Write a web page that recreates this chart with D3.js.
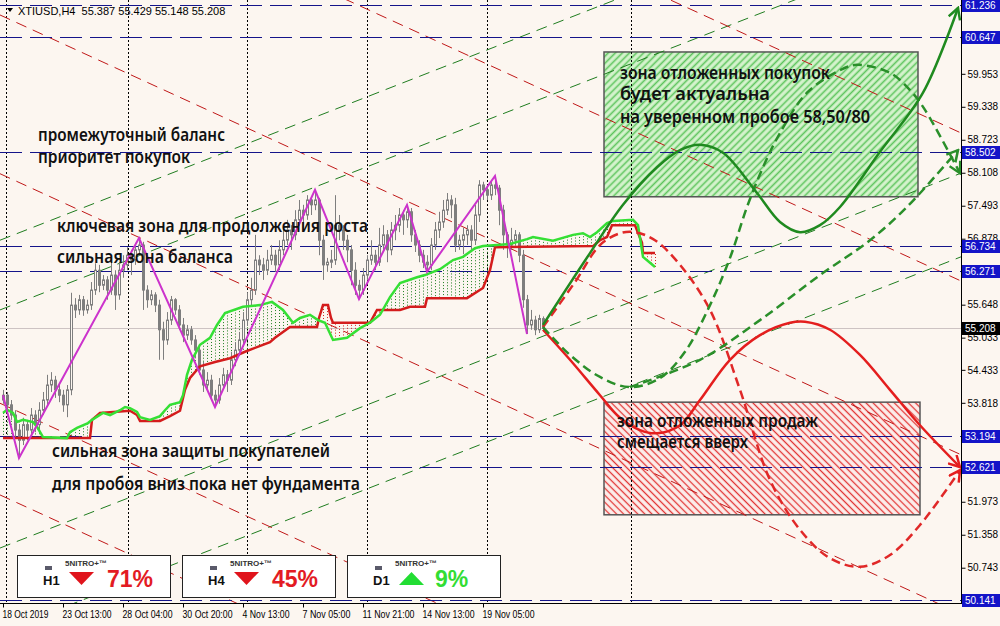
<!DOCTYPE html>
<html><head><meta charset="utf-8">
<script src="https://d3js.org/d3.v7.min.js"></script>
<style>html,body{margin:0;padding:0;background:#fcf6f0;}svg{display:block;}</style>
</head><body>
<svg id="chart" width="1000" height="626"></svg>
<script>
// ---------------- DATA ----------------
const symbolHeader = "XTIUSD,H4  55.387 55.429 55.148 55.208";
// candles [open, high, low, close], one per H4 bar
const candles = [
[53.87,54.06,53.80,53.96],[53.96,54.02,53.68,53.78],[53.78,53.87,53.50,53.59],[53.59,53.68,53.16,53.31],
[53.31,53.41,52.79,53.12],[53.12,53.54,53.03,53.41],[53.41,53.50,53.12,53.31],[53.31,53.72,53.22,53.59],
[53.59,53.68,53.27,53.41],[53.41,53.83,53.31,53.68],[53.68,54.02,53.59,53.87],[53.87,54.34,53.78,54.15],
[54.15,54.39,54.02,54.24],[54.24,54.32,53.91,54.06],[54.06,54.15,53.83,53.96],[53.96,54.06,53.65,53.78],
[53.78,54.15,53.55,54.06],[54.06,55.87,53.96,55.64],[55.64,55.77,55.40,55.55],[55.55,55.83,55.46,55.74],
[55.74,55.81,55.44,55.55],[55.55,55.74,55.48,55.64],[55.64,56.07,55.55,55.92],[55.92,56.42,55.83,56.29],
[56.29,56.39,55.88,56.01],[56.01,56.20,55.92,56.11],[56.11,56.18,55.74,55.92],[55.92,56.44,55.83,56.20],
[56.20,56.29,55.55,55.83],[55.83,56.44,55.74,56.29],[56.29,56.57,56.15,56.39],[56.39,56.72,56.29,56.57],
[56.57,56.67,56.20,56.48],[56.48,56.80,56.39,56.67],[56.67,56.89,56.56,56.76],[56.76,56.82,55.55,55.92],
[55.92,56.01,55.59,55.74],[55.74,55.92,55.64,55.83],[55.83,55.88,55.51,55.64],[55.64,55.74,54.62,55.18],
[55.18,55.33,54.62,54.99],[54.99,55.51,54.90,55.36],[55.36,55.81,55.27,55.74],[55.74,55.77,55.46,55.55],
[55.55,55.64,55.18,55.27],[55.27,55.40,54.95,55.08],[55.08,55.27,54.99,55.18],[55.18,55.25,54.90,54.99],
[54.99,55.08,54.65,54.80],[54.80,54.90,54.34,54.43],[54.43,54.58,54.02,54.15],[54.15,54.39,54.06,54.24],
[54.24,54.34,53.87,53.96],[53.96,54.06,53.74,53.87],[53.87,54.28,53.80,54.15],[54.15,54.47,54.06,54.34],
[54.34,54.43,54.02,54.24],[54.24,54.77,54.15,54.62],[54.62,54.95,54.50,54.80],[54.80,55.14,54.69,54.99],
[54.99,55.51,54.90,55.36],[55.36,55.88,55.25,55.74],[55.74,56.15,55.64,55.92],[55.92,56.95,55.83,56.48],
[56.48,56.57,56.20,56.39],[56.39,56.52,56.11,56.29],[56.29,56.67,56.20,56.48],[56.48,56.76,56.39,56.57],
[56.57,56.67,56.26,56.39],[56.39,56.85,56.29,56.67],[56.67,57.08,56.57,56.85],[56.85,57.23,56.76,57.04],
[57.04,57.13,56.67,56.95],[56.95,57.41,56.85,57.23],[57.23,57.60,57.13,57.41],[57.41,57.51,57.04,57.32],
[57.32,57.69,57.23,57.60],[57.60,57.67,57.32,57.51],[57.51,57.79,57.41,57.60],[57.60,57.64,56.57,56.85],
[56.85,56.95,56.11,56.39],[56.39,56.52,56.26,56.44],[56.44,56.67,56.33,56.48],[56.48,57.69,56.39,57.13],
[57.13,57.32,56.85,57.04],[57.04,57.13,56.67,56.85],[56.85,56.95,56.44,56.67],[56.67,56.76,56.01,56.29],
[56.29,56.44,55.83,56.01],[56.01,56.11,55.75,55.92],[55.92,56.33,55.83,56.20],[56.20,56.57,56.11,56.48],
[56.48,56.85,56.39,56.57],[56.57,56.67,56.29,56.44],[56.44,57.08,56.37,56.76],[56.76,57.13,56.67,56.95],
[56.95,57.04,56.44,56.67],[56.67,57.19,56.57,57.04],[57.04,57.32,56.85,57.13],[57.13,57.45,57.00,57.32],
[57.32,57.41,56.95,57.23],[57.23,57.51,57.08,57.38],[57.38,57.45,56.82,56.95],[56.95,57.04,56.63,56.76],
[56.76,56.85,56.44,56.57],[56.57,56.67,56.33,56.44],[56.44,56.57,56.26,56.39],[56.39,56.89,56.29,56.76],
[56.76,57.19,56.67,57.04],[57.04,57.38,56.89,57.19],[57.19,57.60,57.08,57.41],[57.41,57.73,57.32,57.60],
[57.60,57.69,57.26,57.51],[57.51,57.64,56.63,56.76],[56.76,56.95,56.67,56.85],[56.85,57.08,56.59,56.95],
[56.95,57.13,56.76,57.04],[57.04,57.13,56.63,56.85],[56.85,57.51,56.76,57.32],[57.32,57.97,57.19,57.88],
[57.88,57.94,57.60,57.79],[57.79,57.88,57.60,57.69],[57.69,57.94,57.60,57.88],[57.88,58.05,57.69,57.82],
[57.82,57.88,57.13,57.41],[57.41,57.51,56.67,56.95],[56.95,57.00,56.52,56.76],[56.76,57.08,56.67,56.85],
[56.85,57.04,56.76,56.95],[56.95,57.00,56.44,56.57],[56.57,56.67,55.59,55.74],[55.74,55.83,55.10,55.27],
[55.27,55.55,55.18,55.36],[55.36,55.44,55.08,55.18],[55.18,55.46,55.12,55.39],[55.387,55.429,55.148,55.208]
];
// Ichimoku cloud borders [bar index, price]
const spanA = [[0,53.63],[1,53.69],[2.5,53.63],[3.5,53.46],[5,53.50],[7.5,53.46],[8.5,53.37],[10,53.18],[16,53.16],
[16.75,53.27],[18.5,53.35],[21.25,53.44],[22.25,53.50],[25,53.63],[26.75,53.59],[29.25,53.68],[30.5,53.74],[31.75,53.72],
[33.5,53.65],[34.25,53.55],[36.75,53.50],[39.25,53.57],[40.5,53.68],[41.75,53.78],[44.25,53.83],[45,53.96],[46,54.34],
[47.25,54.62],[49.25,54.90],[51.75,55.03],[53.5,55.27],[55.5,55.49],[60,55.61],[64.25,55.64],[67.25,55.70],[70,55.55],
[72.5,55.31],[74.25,55.40],[76.75,55.46],[78.75,55.36],[80.5,55.31],[82.5,54.99],[86,55.03],[89.25,55.21],[91.75,55.31],
[94.25,55.46],[96.75,55.79],[99.25,56.05],[103.5,56.16],[105.5,56.20],[109.25,56.31],[112.5,56.48],[115,56.54],[118,56.70],
[120,56.74],[123.5,56.76],[126.75,56.78],[131,56.87],[132.5,56.91],[137.5,56.84],[142.5,56.95],[145,56.98],[146.75,56.91],
[148.5,57.00],[151,57.17],[152.5,57.21],[157.5,57.23],[158.75,57.13],[160,56.54],[161.75,56.43],[163,56.35]];
const spanB = [[0,53.16],[21.75,53.16],[22.25,53.50],[24.25,53.63],[31.75,53.67],[33.5,53.59],[34.25,53.48],[39.25,53.48],
[41.75,53.57],[44.25,53.67],[45.5,54.06],[46.75,54.28],[49.25,54.50],[53,54.58],[56.75,54.65],[60.5,54.77],[66.75,54.95],
[68,55.03],[71.75,55.23],[78.5,55.23],[79,55.40],[80,55.64],[81.25,55.64],[82,55.40],[82.5,55.31],[91.75,55.31],[93.5,55.55],
[99.25,55.55],[101.75,55.61],[105.5,55.61],[106,55.77],[116,55.77],[120,55.96],[121.75,56.29],[123,56.72],[147.5,56.74],
[149.25,56.85],[151,56.91],[152.25,57.13],[158,57.13],[159.75,56.80],[160,56.61],[163,56.61]];
// zigzag extremes [bar index, price]
const zigzag = [[0,53.96],[4,52.79],[34,56.89],[53,53.74],[78,57.79],[89,55.75],[101,57.51],[106,56.26],[123,58.05],[131,55.10]];
// forecast scenarios [bar index, price]
const fcGreenSolid = [[135,55.27],[146.75,56.61],[155,57.51],[163.5,58.21],[169.25,58.53],[174.25,58.63],[180,58.48],[188.5,57.73],
[194.25,57.19],[199.25,57.00],[204.25,57.13],[209.25,57.47],[219.25,58.50],[230,59.60],[238.75,61.18]];
const fcGreenDash1 = [[135,55.23],[141.75,54.71],[149.25,54.30],[156.75,54.11],[164.25,54.28],[170.5,54.77],[176.75,55.64],
[181.75,56.52],[186,57.47],[190,58.21],[194.25,58.85],[201,59.60],[209.25,60.02],[213.5,60.12],[221.75,59.97],[226.75,59.65],
[230.5,59.28],[239.25,58.10]];
const fcGreenDash2 = [[156.75,54.11],[174.25,54.62],[189.25,55.36],[204.25,56.20],[216.75,56.85],[226,57.47],[238.75,58.53]];
const fcRedSolid = [[135,55.18],[141.75,54.62],[149.25,53.96],[154.25,53.54],[159.25,53.31],[163.5,53.25],[169.25,53.40],
[174.25,53.87],[181.75,54.62],[189.25,55.08],[196.75,55.31],[200.5,55.33],[206.75,55.18],[214.25,54.71],[221.75,54.06],
[229.25,53.40],[239.25,52.62]];
const fcRedDash = [[135,55.23],[143,56.07],[149.25,56.76],[154.25,56.98],[158,57.00],[163,56.85],[169.25,56.39],[176.75,55.55],
[184.25,54.06],[191.75,52.38],[199.25,51.45],[206.75,50.92],[214.25,50.76],[221.75,50.98],[229.25,51.54],[239.25,52.56]];
// trend channel lines
const greenChannels = [[[-0.75,56.85],[239.5,63.85]],[[-0.75,55.55],[239.5,62.54]],[[-0.75,51.11],[239.5,58.10]],[[-0.75,49.54],[239.5,56.54]]];
const redChannels = [[[-0.75,67.05],[239.5,58.85]],[[-0.75,64.29],[239.5,56.09]],[[-0.75,61.05],[239.5,52.85]],[[-0.75,58.09],[239.5,49.88]],[[-0.75,53.81],[239.5,45.61]],[[-0.75,52.10],[239.5,43.90]]];
// zones [i0, i1, pTop, pBottom]
const buyZone = [[150.25,228.75,60.36,57.66]];
const sellZone = [[150.25,229.25,53.83,51.73]];
const levels = [61.236,60.647,58.502,56.734,56.271,53.194,52.621,50.141];
const lastPrice = 55.208;
const priceTicks = [59.953,59.338,58.723,58.108,57.493,56.878,55.648,55.033,54.433,53.818,51.973,51.358,50.743];
const timeTickIdx = [0,15,30,45,60,75,90,105,120];
const timeLabels = ["18 Oct 2019","23 Oct 13:00","28 Oct 04:00","30 Oct 20:00","4 Nov 13:00","7 Nov 05:00","11 Nov 21:00","14 Nov 13:00","19 Nov 05:00"];
const separators = [0.75,31.25,61,91,121,157];
const notesLeft = ["промежуточный баланс","приоритет покупок","ключевая зона для продолжения роста","сильная зона баланса","сильная зона защиты покупателей","для пробоя вниз пока нет фундамента"];
const notesBuy = ["зона отложенных покупок","будет актуальна","на уверенном пробое 58,50/80"];
const notesSell = ["зона отложенных продаж","смещается вверх"];
const panelTF = ["H1","H4","D1"];
const panelPct = [71,45,9];
const panelDir = ["down","down","up"];

// ---------------- DRAW ----------------
const BG = "#fcf6f0";
const svg = d3.select("#chart");
const x = d3.scaleLinear().domain([0,239.5]).range([3,961]);
const y = d3.scaleLinear().domain([50.141,61.236]).range([600,5]);
const defs = svg.append("defs");
defs.append("clipPath").attr("id","plotClip").append("rect").attr("x",0).attr("y",0).attr("width",961).attr("height",603);

function hatch(id,bg,col,rot,sw){
  const p = defs.append("pattern").attr("id",id).attr("patternUnits","userSpaceOnUse")
    .attr("width",5).attr("height",5).attr("patternTransform",`rotate(${rot})`);
  p.append("rect").attr("width",5).attr("height",5).attr("fill",bg);
  p.append("line").attr("x1",2.5).attr("x2",2.5).attr("y1",0).attr("y2",5).attr("stroke",col).attr("stroke-width",sw);
}
hatch("hatchG","#d6f3ce","#5dc45d",45,1.6);
hatch("hatchR","#fcefec","#e23535",-45,1.3);

function marker(id,col){
  defs.append("marker").attr("id",id).attr("viewBox","0 0 14 14").attr("refX",12).attr("refY",7)
    .attr("markerWidth",14).attr("markerHeight",14).attr("markerUnits","userSpaceOnUse").attr("orient","auto")
    .append("path").attr("d","M1,1 L12,7 L1,13").attr("fill","none").attr("stroke",col)
    .attr("stroke-width",2.5).attr("stroke-dasharray","none").attr("stroke-linejoin","miter");
}
marker("arrG","#1f8a1f"); marker("arrGd","#2a8f2a"); marker("arrR","#e41e1e");

svg.append("rect").attr("width",1000).attr("height",626).attr("fill",BG);
const plot = svg.append("g").attr("clip-path","url(#plotClip)");

// zones
plot.selectAll(".bz").data(buyZone).join("rect")
  .attr("x",d=>x(d[0])).attr("y",d=>y(d[2])).attr("width",d=>x(d[1])-x(d[0])).attr("height",d=>y(d[3])-y(d[2]))
  .attr("fill","url(#hatchG)").attr("stroke","#555").attr("stroke-width",1.5);
plot.selectAll(".sz").data(sellZone).join("rect")
  .attr("x",d=>x(d[0])).attr("y",d=>y(d[2])).attr("width",d=>x(d[1])-x(d[0])).attr("height",d=>y(d[3])-y(d[2]))
  .attr("fill","url(#hatchR)").attr("stroke","#555").attr("stroke-width",1.5);

// separators
plot.selectAll(".sep").data(separators).join("line")
  .attr("x1",d=>Math.round(x(d))+0.5).attr("x2",d=>Math.round(x(d))+0.5).attr("y1",0).attr("y2",603)
  .attr("stroke","#000").attr("stroke-dasharray","2,2");

// bid line
plot.append("line").attr("x1",0).attr("x2",961).attr("y1",Math.round(y(lastPrice))+0.5).attr("y2",Math.round(y(lastPrice))+0.5)
  .attr("stroke","#cdc3c3");

// channels
const ln = d3.line().x(d=>x(d[0])).y(d=>y(d[1]));
plot.selectAll(".gch").data(greenChannels).join("path").attr("d",ln).attr("fill","none")
  .attr("stroke","#1f7d1f").attr("stroke-dasharray","11,7");
plot.selectAll(".rch").data(redChannels).join("path").attr("d",ln).attr("fill","none")
  .attr("stroke","#c01818").attr("stroke-dasharray","11,7");

// horizontal levels
plot.selectAll(".lvl").data(levels).join("line")
  .attr("x1",0).attr("x2",961).attr("y1",d=>Math.round(y(d))+0.5).attr("y2",d=>Math.round(y(d))+0.5)
  .attr("stroke","#14148a").attr("stroke-dasharray","22,8");

// cloud hatch
function interp(pts,t){
  for(let k=0;k<pts.length-1;k++){const a=pts[k],b=pts[k+1];
    if(t>=a[0]&&t<=b[0]) return b[0]===a[0]?b[1]:a[1]+(b[1]-a[1])*(t-a[0])/(b[0]-a[0]);}
  return null;
}
const hatchIdx = d3.range(0,164);
plot.selectAll(".ch").data(hatchIdx).join("line")
  .attr("x1",d=>Math.round(x(d))+0.5).attr("x2",d=>Math.round(x(d))+0.5)
  .attr("y1",d=>y(interp(spanA,d))).attr("y2",d=>y(interp(spanB,d)))
  .attr("stroke",d=>interp(spanA,d)>=interp(spanB,d)?"#1e7e1e":"#d02020").attr("stroke-dasharray","1,2");

// candles
const cg = plot.append("g");
cg.selectAll("line").data(candles).join("line")
  .attr("x1",(d,i)=>Math.round(x(i))+0.5).attr("x2",(d,i)=>Math.round(x(i))+0.5)
  .attr("y1",d=>y(d[1])).attr("y2",d=>y(d[2])).attr("stroke","#7e7e7e");
cg.selectAll("rect").data(candles).join("rect")
  .attr("x",(d,i)=>Math.round(x(i))-0.5).attr("width",2)
  .attr("y",d=>y(Math.max(d[0],d[3]))).attr("height",d=>Math.max(1,y(Math.min(d[0],d[3]))-y(Math.max(d[0],d[3]))))
  .attr("fill",d=>d[3]>=d[0]?BG:"#7e7e7e").attr("stroke","#7e7e7e");

// cloud lines
plot.append("path").datum(spanB).attr("d",ln).attr("fill","none").attr("stroke","#d41c1c").attr("stroke-width",2.5);
plot.append("path").datum(spanA).attr("d",ln).attr("fill","none").attr("stroke","#35e035").attr("stroke-width",2.5);

// zigzag
plot.append("path").datum(zigzag).attr("d",ln).attr("fill","none").attr("stroke","#cc33cc").attr("stroke-width",2);

// forecasts
const cv = d3.line().x(d=>x(d[0])).y(d=>y(d[1])).curve(d3.curveCatmullRom.alpha(0.5));
svg.append("path").datum(fcRedDash).attr("d",cv).attr("fill","none").attr("stroke","#e02828").attr("stroke-width",2.5)
  .attr("stroke-dasharray","9,5").attr("marker-end","url(#arrR)");
svg.append("path").datum(fcRedSolid).attr("d",cv).attr("fill","none").attr("stroke","#e41e1e").attr("stroke-width",2.5)
  .attr("marker-end","url(#arrR)");
svg.append("path").datum(fcGreenDash1).attr("d",cv).attr("fill","none").attr("stroke","#2a8f2a").attr("stroke-width",2.5)
  .attr("stroke-dasharray","9,5").attr("marker-end","url(#arrGd)");
svg.append("path").datum(fcGreenDash2).attr("d",cv).attr("fill","none").attr("stroke","#2a8f2a").attr("stroke-width",2.5)
  .attr("stroke-dasharray","9,5").attr("marker-end","url(#arrGd)");
svg.append("path").datum(fcGreenSolid).attr("d",cv).attr("fill","none").attr("stroke","#1f8a1f").attr("stroke-width",2.5)
  .attr("marker-end","url(#arrG)");

// annotations
const noteFont = "'Noto Sans', 'DejaVu Sans', sans-serif";
const leftPos = [[38,141,187],[38,163,152],[57,232,311],[57,263,176],[52,457,278],[52,490,308]];
const buyPos = [[620,79,210],[620,100,150],[620,123,250]];
const sellPos = [[617,427,201],[617,448,131]];
function notes(arr,pos){
  svg.append("g").selectAll("text").data(arr).join("text")
    .attr("x",(d,i)=>pos[i][0]).attr("y",(d,i)=>pos[i][1]).attr("textLength",(d,i)=>pos[i][2]).attr("lengthAdjust","spacingAndGlyphs")
    .attr("font-family",noteFont).attr("font-size",17).attr("font-weight",600).attr("fill","#111").text(d=>d);
}
notes(notesLeft,leftPos); notes(notesBuy,buyPos); notes(notesSell,sellPos);

// signal panels
const px0 = [17,182,347];
const pg = svg.append("g");
panelTF.forEach((tf,k)=>{
  const x0 = px0[k];
  pg.append("rect").attr("x",x0+0.5).attr("y",555.5).attr("width",153).attr("height",42).attr("fill","#fff").attr("stroke","#222");
  pg.append("rect").attr("x",x0+28).attr("y",566).attr("width",7).attr("height",4).attr("fill","#5a5a6a");
  pg.append("text").attr("x",x0+26).attr("y",585).attr("font-family","'Liberation Sans Narrow','Liberation Sans',sans-serif")
    .attr("font-weight","bold").attr("font-size",13).attr("fill","#111").text(tf);
  pg.append("text").attr("x",x0+48).attr("y",566).attr("font-family","'Liberation Sans',sans-serif")
    .attr("font-weight","bold").attr("font-size",8).attr("fill","#333").text("5NITRO+™");
  const col = panelDir[k]==="down" ? "#e0141c" : "#22dd33";
  const tx = x0+52;
  const tri = panelDir[k]==="down" ? [[tx,572],[tx+25,572],[tx+12.5,585]] : [[tx,585],[tx+25,585],[tx+12.5,572]];
  pg.append("path").attr("d",d3.line()(tri)+"Z").attr("fill",col);
  pg.append("text").attr("x",x0+(k===2?88:90)).attr("y",587).attr("font-family","'Liberation Sans',Arial,sans-serif")
    .attr("font-weight","bold").attr("font-size",23).attr("fill",panelDir[k]==="down"?"#e31b23":"#33dd33").text(panelPct[k]+"%");
});

// axes
svg.append("line").attr("x1",961.5).attr("x2",961.5).attr("y1",0).attr("y2",604).attr("stroke","#000");
svg.append("line").attr("x1",0).attr("x2",962).attr("y1",603.5).attr("y2",603.5).attr("stroke","#000");
const ay = svg.append("g").attr("transform","translate(961.5,0)")
  .call(d3.axisRight(y).tickValues(priceTicks).tickSize(4).tickPadding(2).tickFormat(d=>d.toFixed(3)));
ay.select(".domain").remove();
ay.selectAll("text").attr("font-family","'Liberation Sans',Tahoma,sans-serif").attr("font-size",10).attr("fill","#000");
const labelW = [46,49,50,50,47,48,52,52,52];
const ax = svg.append("g").attr("transform","translate(0,603.5)")
  .call(d3.axisBottom(x).tickValues(timeTickIdx).tickSize(4).tickPadding(3).tickFormat((d,i)=>timeLabels[i]));
ax.select(".domain").remove();
ax.selectAll("text").attr("text-anchor","start").attr("x",-1).attr("font-family","'Liberation Sans',Tahoma,sans-serif")
  .attr("font-size",10.5).attr("fill","#000").attr("textLength",(d,i)=>labelW[i]).attr("lengthAdjust","spacingAndGlyphs");

// level labels
const lg = svg.append("g");
lg.selectAll("rect").data(levels).join("rect").attr("x",962).attr("y",d=>Math.round(y(d))-6).attr("width",38).attr("height",13).attr("fill","#1414c8");
lg.selectAll("text").data(levels).join("text").attr("x",965).attr("y",d=>Math.round(y(d))+4)
  .attr("font-family","'Liberation Sans',Tahoma,sans-serif").attr("font-size",10).attr("fill","#fff").text(d=>d.toFixed(3));
lg.append("rect").attr("x",962).attr("y",Math.round(y(lastPrice))-6).attr("width",38).attr("height",13).attr("fill","#000");
lg.append("text").attr("x",965).attr("y",Math.round(y(lastPrice))+4).attr("font-family","'Liberation Sans',Tahoma,sans-serif")
  .attr("font-size",10).attr("fill","#fff").text(lastPrice.toFixed(3));

// header
svg.append("path").attr("d","M7,8 L13,8 L10,12 Z").attr("fill","#000");
svg.append("text").attr("x",18).attr("y",15).attr("font-family","'Liberation Sans',Tahoma,sans-serif").attr("font-size",11)
  .attr("fill","#000").attr("xml:space","preserve").style("white-space","pre").text(symbolHeader);
</script>
</body></html>
